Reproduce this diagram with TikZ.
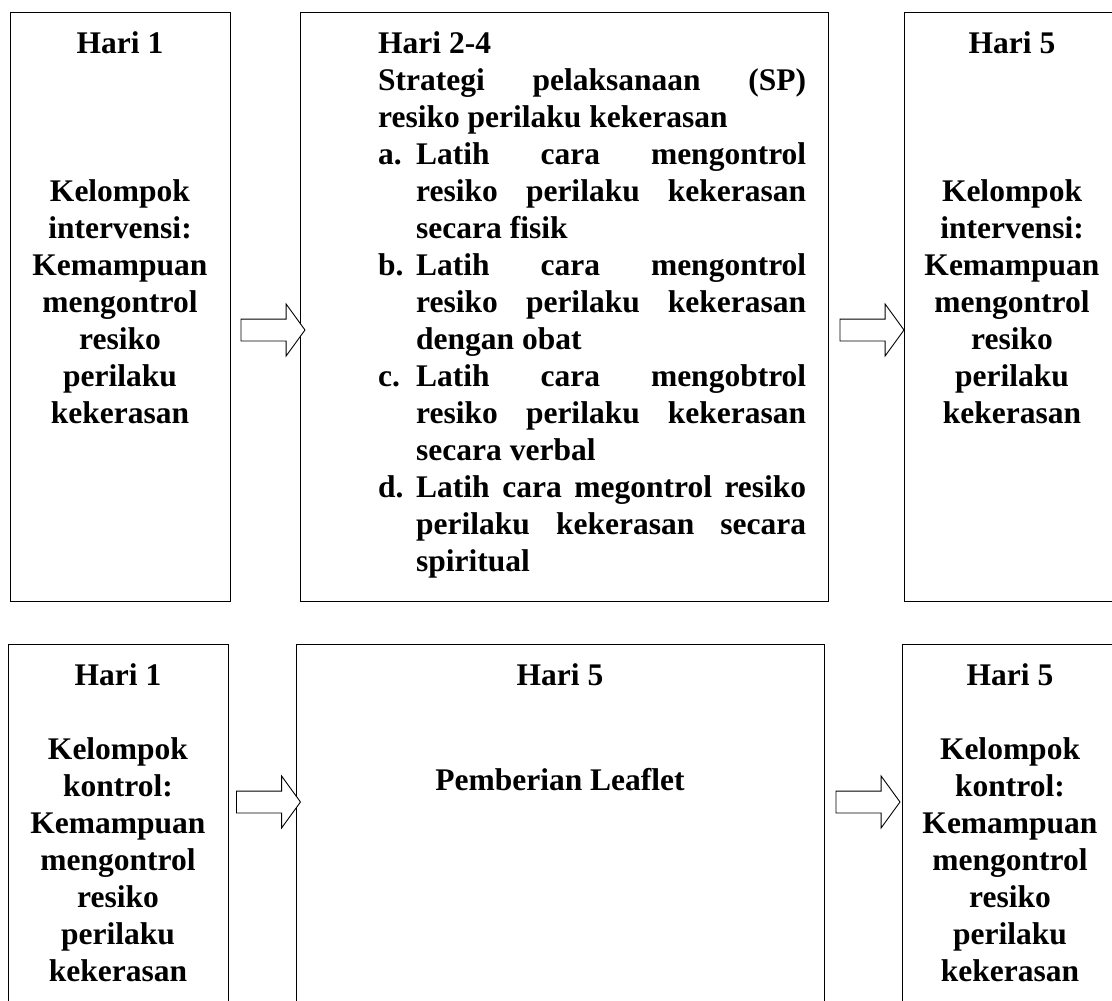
\documentclass[tikz,border=0pt]{standalone}
\usepackage{fontspec}
\setmainfont{Liberation Serif}
\usetikzlibrary{shapes.arrows}
\newcommand{\spitem}[2]{\hangindent=38pt\hangafter=1\noindent\makebox[38pt][l]{#1}#2\par}
\begin{document}
\begin{tikzpicture}[x=1pt, y=-1pt,
  box/.style={draw, line width=1.4pt, inner sep=0pt, anchor=north west},
  txt/.style={anchor=north, align=center, inner sep=0pt,
    font=\fontsize{31.5}{37}\selectfont\bfseries},
  flow/.style={single arrow, draw, line width=0.9pt, fill=white, inner sep=10.5pt,
    minimum height=64pt, single arrow head extend=15pt, single arrow tip angle=108}]
    \path[use as bounding box] (0, 0) rectangle (1112, 1001);
    \clip (0, 0) rectangle (1112, 1001);

    % Intervention group
    \node [box, minimum width=220pt, minimum height=589pt] (pre1) at (10, 12) {};
    \node [box, minimum width=528pt, minimum height=589pt] (sp1) at (300, 12) {};
    \node [box, minimum width=216pt, minimum height=589pt] (post1) at (904, 12) {};
    \node [txt] (pre1t) at (120, 31.5)
      {Hari 1\\[111pt]Kelompok\\intervensi:\\Kemampuan\\mengontrol\\resiko\\perilaku\\kekerasan};
    \node [txt, anchor=north west, text width=428pt, align=justify] (sp1t) at (378, 31.5) {%
      \tolerance=10000\hyphenpenalty=10000
      Hari 2-4\par
      Strategi pelaksanaan (SP)\linebreak resiko perilaku kekerasan\par
      \spitem{a.}{Latih cara mengontrol\linebreak resiko perilaku kekerasan\linebreak secara fisik}
      \spitem{b.}{Latih cara mengontrol\linebreak resiko perilaku kekerasan\linebreak dengan obat}
      \spitem{c.}{Latih cara mengobtrol\linebreak resiko perilaku kekerasan\linebreak secara verbal}
      \spitem{d.}{Latih cara megontrol resiko\linebreak perilaku kekerasan secara\linebreak spiritual}};
    \node [txt] (post1t) at (1012, 31.5)
      {Hari 5\\[111pt]Kelompok\\intervensi:\\Kemampuan\\mengontrol\\resiko\\perilaku\\kekerasan};

    % Control group
    \node [box, minimum width=220pt, minimum height=400pt] (pre2) at (8, 644) {};
    \node [box, minimum width=528pt, minimum height=400pt] (sp2) at (296, 644) {};
    \node [box, minimum width=216pt, minimum height=400pt] (post2) at (902, 644) {};
    \node [txt] (pre2t) at (118, 663.5)
      {Hari 1\\[37pt]Kelompok\\kontrol:\\Kemampuan\\mengontrol\\resiko\\perilaku\\kekerasan};
    \node [txt] (sp2t) at (560, 663.5) {Hari 5\\[68pt]Pemberian Leaflet};
    \node [txt] (post2t) at (1010, 663.5)
      {Hari 5\\[37pt]Kelompok\\kontrol:\\Kemampuan\\mengontrol\\resiko\\perilaku\\kekerasan};

    % Arrows
    \node [flow] (f1) at (269, 330) {};
    \node [flow] (f2) at (868, 330) {};
    \node [flow] (f3) at (264.5, 802) {};
    \node [flow] (f4) at (864, 802) {};
\end{tikzpicture}
\end{document}
